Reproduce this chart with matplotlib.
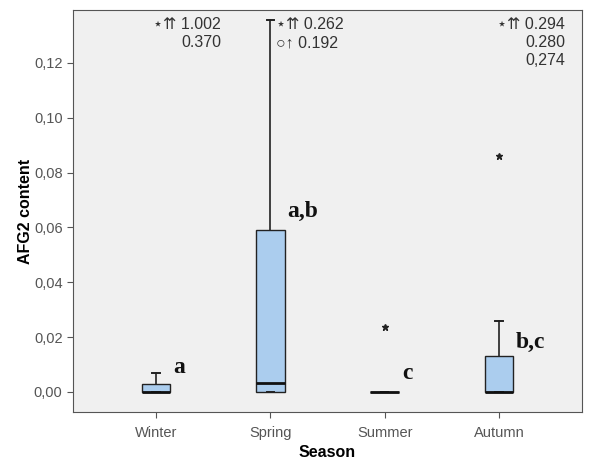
import matplotlib
matplotlib.use("Agg")
import matplotlib.pyplot as plt
import matplotlib.transforms as mtransforms

seasons = ["Winter", "Spring", "Summer", "Autumn"]
q1 = [0.0, 0.0, 0.0, 0.0]
med = [0.0, 0.0033, 0.0, 0.0]
q3 = [0.0029, 0.059, 0.0, 0.0131]
whislo = [0.0, 0.0, 0.0, 0.0]
whishi = [0.0069, 0.1357, 0.0, 0.0259]
star_out = [[], [], [0.0237], [0.0861]]
letters = ["a", "a,b", "c", "b,c"]
letter_y = [0.0088, 0.066, 0.0069, 0.0182]
# off-scale values printed at the top of the plot
off_vals = [["\u22c6\u21c8 1.002", "0.370"],
            ["\u22c6\u21c8 0.262", "\u25cb\u2191 0.192"],
            [],
            ["\u22c6\u21c8 0.294", "0.280", "0,274"]]

plt.rcParams['font.family'] = ['Liberation Sans', 'DejaVu Sans']

fig = plt.figure(figsize=(5.92, 4.68), dpi=100)
ax = fig.add_axes([0.1233, 0.1197, 0.8597, 0.8589])
ax.set_facecolor("#f0f0f0")

stats = []
for i in range(4):
    stats.append(dict(med=med[i], q1=q1[i], q3=q3[i], whislo=whislo[i],
                      whishi=whishi[i], fliers=[], label=seasons[i]))
pos = [1, 2, 3, 4]
ax.bxp(stats, positions=pos, widths=0.25, capwidths=0.065, patch_artist=True,
       showfliers=False,
       boxprops=dict(facecolor="#abcdee", edgecolor="#222222", linewidth=1),
       medianprops=dict(color="#111111", linewidth=2),
       whiskerprops=dict(color="#222222", linewidth=1.2),
       capprops=dict(color="#222222", linewidth=1.4))

for i, vals in enumerate(star_out):
    for v in vals:
        ax.plot(pos[i], v, marker="*", color="#222222", markersize=5, linestyle="none")

for i, t in enumerate(letters):
    ax.text(pos[i] + 0.15, letter_y[i], t, family="Liberation Serif", fontweight="bold",
            fontsize=17, va="center", ha="left", color="#111111")

trans = mtransforms.blended_transform_factory(ax.transData, ax.transAxes)
right_x = [1.57, 2.52, 3.0, 4.58]
for i, vals in enumerate(off_vals):
    for j, s in enumerate(vals):
        if i == 1:
            ax.text(pos[i] + 0.05, 0.982 - j * 0.045, s, transform=trans, ha="left", va="top",
                    fontsize=11.5, color="#333333")
        else:
            ax.text(right_x[i], 0.982 - j * 0.045, s, transform=trans, ha="right", va="top",
                    fontsize=11.5, color="#333333")

ax.set_xlim(0.275, 4.725)
ax.set_ylim(-0.0073, 0.1393)
ax.set_yticks([0.0, 0.02, 0.04, 0.06, 0.08, 0.1, 0.12])
ax.set_yticklabels(["0,00", "0,02", "0,04", "0,06", "0,08", "0,10", "0,12"])
ax.set_xticks(pos)
ax.set_xticklabels(seasons)
ax.tick_params(labelsize=10.5, labelcolor="#555555", color="#555555", length=4)
ax.tick_params(axis="x", pad=6)
for sp in ax.spines.values():
    sp.set_color("#555555")
ax.set_xlabel("Season", fontsize=11.5, fontweight="bold")
ax.set_ylabel("AFG2 content", fontsize=11.5, fontweight="bold")
ax.xaxis.set_label_coords(0.5, -0.083)
ax.yaxis.set_label_coords(-0.079, 0.5)

fig.savefig("out.png", dpi=100)
